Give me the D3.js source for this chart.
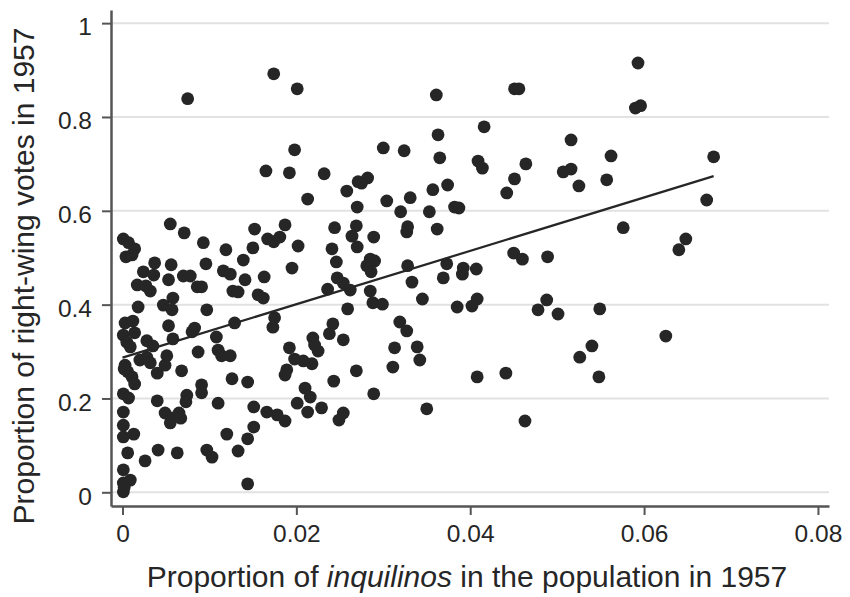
<!DOCTYPE html>
<html>
<head>
<meta charset="utf-8">
<script src="https://cdn.jsdelivr.net/npm/d3@7"></script>
<style>
  html, body { margin: 0; padding: 0; background: #fff; }
  svg { display: block; font-family: "Liberation Sans", Arial, Helvetica, sans-serif; }
</style>
</head>
<body>
<div id="chart"></div>
<script>
// proportion of inquilinos (x) and proportion of right-wing votes (y), one entry per commune
const inquilinos = [
  0.0075, 0.0174, 0.0201, 0.0361, 0.0451, 0.0456, 0.0593, 0.0590, 0.0596, 0.0416,
  0.0363, 0.0516, 0.0198, 0.0300, 0.0324, 0.0562, 0.0680, 0.0365, 0.0409, 0.0414,
  0.0464, 0.0165, 0.0192, 0.0232, 0.0507, 0.0516, 0.0525, 0.0557, 0.0451, 0.0442,
  0.0672, 0.0271, 0.0282, 0.0275, 0.0258, 0.0357, 0.0374, 0.0213, 0.0304, 0.0331,
  0.0270, 0.0320, 0.0353, 0.0382, 0.0387, 0.0055, 0.0071, 0.0001, 0.0007, 0.0014,
  0.0004, 0.0011, 0.0093, 0.0119, 0.0152, 0.0187, 0.0167, 0.0174, 0.0181, 0.0202,
  0.0150, 0.0139, 0.0244, 0.0269, 0.0264, 0.0270, 0.0241, 0.0246, 0.0328, 0.0327,
  0.0362, 0.0289, 0.0576, 0.0648, 0.0640, 0.0450, 0.0460, 0.0489, 0.0037, 0.0056,
  0.0096, 0.0024, 0.0036, 0.0070, 0.0078, 0.0116, 0.0124, 0.0053, 0.0017, 0.0027,
  0.0032, 0.0086, 0.0091, 0.0058, 0.0127, 0.0195, 0.0163, 0.0141, 0.0133, 0.0156,
  0.0162, 0.0285, 0.0290, 0.0281, 0.0286, 0.0328, 0.0373, 0.0392, 0.0391, 0.0407,
  0.0369, 0.0333, 0.0247, 0.0254, 0.0236, 0.0262, 0.0285, 0.0345, 0.0408, 0.0488,
  0.0288, 0.0299, 0.0385, 0.0402, 0.0478, 0.0501, 0.0549, 0.0625, 0.0540, 0.0526,
  0.0548, 0.0175, 0.0173, 0.0259, 0.0242, 0.0238, 0.0254, 0.0219, 0.0221, 0.0225,
  0.0192, 0.0319, 0.0327, 0.0313, 0.0339, 0.0342, 0.0198, 0.0208, 0.0218, 0.0311,
  0.0189, 0.0187, 0.0269, 0.0243, 0.0408, 0.0441, 0.0210, 0.0216, 0.0289, 0.0201,
  0.0213, 0.0229, 0.0254, 0.0249, 0.0350, 0.0187, 0.0463, 0.0129, 0.0144, 0.0151,
  0.0166, 0.0178, 0.0151, 0.0144, 0.0133, 0.0144, 0.0018, 0.0047, 0.0057, 0.0097,
  0.0003, 0.0012, 0.0053, 0.0001, 0.0014, 0.0005, 0.0009, 0.0028, 0.0035, 0.0058,
  0.0083, 0.0080, 0.0108, 0.0087, 0.0110, 0.0114, 0.0124, 0.0003, 0.0006, 0.0020,
  0.0028, 0.0032, 0.0051, 0.0049, 0.0040, 0.0068, 0.0011, 0.0014, 0.0126, 0.0091,
  0.0091, 0.0001, 0.0007, 0.0074, 0.0073, 0.0040, 0.0110, 0.0001, 0.0049, 0.0057,
  0.0055, 0.0065, 0.0067, 0.0001, 0.0001, 0.0013, 0.0120, 0.0041, 0.0006, 0.0063,
  0.0097, 0.0103, 0.0026, 0.0001, 0.0001, 0.0009, 0.0001, 0.0002, 0.0002
]
const rightVotes = [
  0.839, 0.892, 0.860, 0.847, 0.860, 0.860, 0.915, 0.819, 0.824, 0.779,
  0.762, 0.751, 0.730, 0.734, 0.728, 0.717, 0.715, 0.713, 0.706, 0.691,
  0.700, 0.685, 0.681, 0.679, 0.683, 0.689, 0.653, 0.666, 0.668, 0.638,
  0.623, 0.662, 0.670, 0.659, 0.642, 0.645, 0.655, 0.625, 0.621, 0.628,
  0.608, 0.598, 0.598, 0.608, 0.606, 0.572, 0.553, 0.540, 0.532, 0.519,
  0.502, 0.506, 0.532, 0.517, 0.561, 0.570, 0.540, 0.534, 0.544, 0.525,
  0.521, 0.495, 0.564, 0.568, 0.546, 0.523, 0.519, 0.491, 0.566, 0.555,
  0.561, 0.544, 0.564, 0.540, 0.517, 0.510, 0.497, 0.502, 0.489, 0.485,
  0.487, 0.470, 0.463, 0.461, 0.461, 0.472, 0.465, 0.453, 0.442, 0.440,
  0.429, 0.438, 0.438, 0.414, 0.429, 0.478, 0.459, 0.453, 0.427, 0.421,
  0.414, 0.497, 0.493, 0.483, 0.470, 0.483, 0.487, 0.478, 0.465, 0.476,
  0.457, 0.448, 0.457, 0.446, 0.433, 0.431, 0.429, 0.412, 0.412, 0.410,
  0.404, 0.401, 0.395, 0.397, 0.389, 0.380, 0.391, 0.333, 0.312, 0.288,
  0.246, 0.372, 0.352, 0.391, 0.359, 0.338, 0.325, 0.329, 0.314, 0.301,
  0.308, 0.363, 0.344, 0.308, 0.310, 0.282, 0.284, 0.280, 0.274, 0.267,
  0.261, 0.250, 0.259, 0.237, 0.246, 0.254, 0.222, 0.203, 0.210, 0.190,
  0.171, 0.180, 0.169, 0.154, 0.178, 0.152, 0.152, 0.361, 0.235, 0.182,
  0.171, 0.165, 0.139, 0.114, 0.088, 0.018, 0.395, 0.399, 0.389, 0.389,
  0.361, 0.365, 0.355, 0.335, 0.340, 0.320, 0.310, 0.323, 0.312, 0.327,
  0.350, 0.342, 0.331, 0.299, 0.303, 0.291, 0.291, 0.271, 0.257, 0.282,
  0.288, 0.276, 0.291, 0.271, 0.254, 0.259, 0.246, 0.231, 0.242, 0.229,
  0.212, 0.210, 0.201, 0.207, 0.193, 0.195, 0.190, 0.171, 0.169, 0.158,
  0.148, 0.169, 0.158, 0.143, 0.118, 0.124, 0.124, 0.090, 0.084, 0.084,
  0.090, 0.075, 0.067, 0.048, 0.020, 0.026, 0.001, 0.011, 0.263
]

// fitted linear regression (intercept, slope), drawn over the observed x range
const fitIntercept = 0.287
const fitSlope = 5.69
const fitRange = [0, 0.068]

const xTicks = [0, 0.02, 0.04, 0.06, 0.08]
const xTickLabels = ["0", "0.02", "0.04", "0.06", "0.08"]
const yTicks = [0, 0.2, 0.4, 0.6, 0.8, 1]
const yTickLabels = ["0", "0.2", "0.4", "0.6", "0.8", "1"]

const width = 850, height = 597
const plot = { left: 111, right: 829, top: 10, bottom: 506 }

const svg = d3.select("#chart").append("svg")
    .attr("width", width)
    .attr("height", height)

const x = d3.scaleLinear()
    .domain([-0.00132, 0.08127])
    .range([plot.left, plot.right])
const y = d3.scaleLinear()
    .domain([-0.0292, 1.028])
    .range([plot.bottom, plot.top])

// horizontal grid lines
svg.append("g")
    .selectAll("line")
    .data(yTicks)
    .join("line")
    .attr("x1", plot.left)
    .attr("x2", plot.right)
    .attr("y1", d => y(d))
    .attr("y2", d => y(d))
    .attr("stroke", "#e2e2e2")
    .attr("stroke-width", 2)

// points
svg.append("g")
    .selectAll("circle")
    .data(inquilinos.map((v, i) => [v, rightVotes[i]]))
    .join("circle")
    .attr("cx", d => x(d[0]))
    .attr("cy", d => y(d[1]))
    .attr("r", 6.4)
    .attr("fill", "#262626")

// fitted line
svg.append("path")
    .datum(fitRange)
    .attr("d", d3.line().x(d => x(d)).y(d => y(fitIntercept + fitSlope * d)))
    .attr("fill", "none")
    .attr("stroke", "#262626")
    .attr("stroke-width", 2.2)

// axes
const xAxis = svg.append("g")
    .attr("transform", `translate(0,${plot.bottom})`)
    .call(d3.axisBottom(x).tickValues(xTicks).tickFormat((d, i) => xTickLabels[i]).tickSizeInner(9).tickSizeOuter(0).tickPadding(10))
const yAxis = svg.append("g")
    .attr("transform", `translate(${plot.left},0)`)
    .call(d3.axisLeft(y).tickValues(yTicks).tickFormat((d, i) => yTickLabels[i]).tickSizeInner(9).tickSizeOuter(0).tickPadding(10))

for (const ax of [xAxis, yAxis]) {
    ax.select(".domain").attr("stroke", "#555").attr("stroke-width", 2.5)
    ax.selectAll(".tick line").attr("stroke", "#555").attr("stroke-width", 2)
    ax.selectAll(".tick text")
      .attr("font-size", 24.5)
      .attr("font-family", "Liberation Sans, Arial, sans-serif")
      .attr("fill", "#262626")
}
yAxis.selectAll(".tick text").attr("dy", "0.48em")

// axis titles
const xTitle = svg.append("text")
    .attr("x", 467)
    .attr("y", 587)
    .attr("text-anchor", "middle")
    .attr("font-size", 30)
    .attr("fill", "#262626")
xTitle.append("tspan").text("Proportion of ")
xTitle.append("tspan").attr("font-style", "italic").text("inquilinos")
xTitle.append("tspan").text(" in the population in 1957")

svg.append("text")
    .attr("transform", "translate(34,276) rotate(-90)")
    .attr("text-anchor", "middle")
    .attr("font-size", 30)
    .attr("fill", "#262626")
    .text("Proportion of right-wing votes in 1957")
</script>
</body>
</html>
